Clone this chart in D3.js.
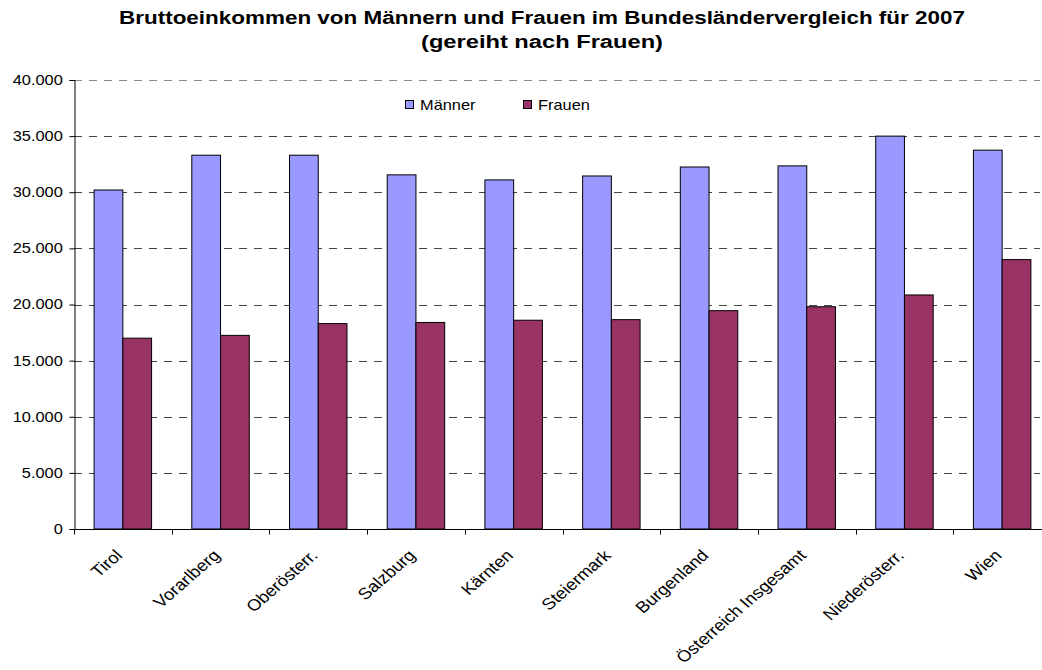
<!DOCTYPE html>
<html lang="de">
<head>
    <meta charset="UTF-8">
    <title>Bruttoeinkommen 2007</title>
    <script src="https://cdn.jsdelivr.net/npm/d3@7/dist/d3.min.js"></script>
    <style>
        body {
            margin: 0;
            background: white;
        }
        svg text {
            font-family: "Liberation Sans", Arial, sans-serif;
            fill: black;
        }
        .grid line {
            stroke: #444;
            stroke-dasharray: 8 7;
        }
        .bar {
            stroke: black;
            stroke-width: 1;
        }
    </style>
</head>
<body>
<script>
    const width = 1042;
    const height = 670;

    const laender = ["Tirol", "Vorarlberg", "Oberösterr.", "Salzburg", "Kärnten", "Steiermark",
        "Burgenland", "Österreich Insgesamt", "Niederösterr.", "Wien"];
    const serien = ["Männer", "Frauen"];
    const maenner = [30200, 33300, 33300, 31550, 31100, 31450, 32250, 32350, 35000, 33750];
    const frauen = [17000, 17250, 18300, 18400, 18600, 18650, 19450, 19800, 20850, 24000];
    const yTicks = [0, 5000, 10000, 15000, 20000, 25000, 30000, 35000, 40000];
    const farben = ["#9999FF", "#993366"];

    const plot = {left: 74, right: 1051, top: 80, bottom: 529};
    // the original picture is stretched horizontally, so text is too
    const stretch = 1.15;

    const svg = d3.select("body").append("svg")
            .attr("width", width).attr("height", height);

    // scales
    const x0 = d3.scaleBand().domain(laender).range([plot.left, plot.right]).padding(0);
    const x1 = d3.scaleBand().domain(serien).range([0, x0.bandwidth()])
            .paddingInner(0).paddingOuter(0.7);
    const y = d3.scaleLinear().domain([0, 40000]).range([plot.bottom, plot.top]);
    const color = d3.scaleOrdinal().domain(serien).range(farben);

    const fmt = d => d === 0 ? "0" : d3.format(",")(d).replace(/,/g, ".");

    // gridlines
    svg.append("g").attr("class", "grid")
        .selectAll("line")
        .data(yTicks.filter(d => d > 0))
        .enter().append("line")
        .attr("x1", plot.left).attr("x2", 1040)
        .attr("y1", d => Math.round(y(d)) + 0.5).attr("y2", d => Math.round(y(d)) + 0.5)
        .style("stroke", d => d === 40000 ? "#888" : null);

    // bars
    const rows = laender.map((l, i) => ({land: l, werte: [maenner[i], frauen[i]]}));
    svg.append("g").selectAll("g")
        .data(rows)
        .enter().append("g")
        .attr("transform", d => "translate(" + x0(d.land) + ",0)")
        .selectAll("rect")
        .data(d => serien.map((s, j) => ({serie: s, wert: d.werte[j]})))
        .enter().append("rect")
        .attr("class", "bar")
        .attr("x", d => x1(d.serie))
        .attr("width", x1.bandwidth())
        .attr("y", d => y(d.wert))
        .attr("height", d => y(0) - y(d.wert))
        .attr("fill", d => color(d.serie));

    // y axis
    const yAxis = svg.append("g")
        .attr("transform", "translate(" + (plot.left + 0.5) + ",0)")
        .call(d3.axisLeft(y).tickValues(yTicks).tickFormat(fmt).tickSize(5).tickPadding(5));
    yAxis.selectAll("text")
        .style("font-size", "14px")
        .attr("transform", "scale(1.17,1)");
    yAxis.select(".domain").attr("stroke", "black");

    // x axis with ticks at band boundaries
    const xAxis = svg.append("g").attr("transform", "translate(0," + (plot.bottom + 0.5) + ")");
    xAxis.append("line")
        .attr("x1", plot.left).attr("x2", 1042).attr("stroke", "black");
    xAxis.selectAll("line.tick")
        .data(laender)
        .enter().append("line")
        .attr("class", "tick")
        .attr("x1", d => Math.round(x0(d)) + 0.5).attr("x2", d => Math.round(x0(d)) + 0.5)
        .attr("y1", 0).attr("y2", 5)
        .attr("stroke", "black");
    xAxis.selectAll("text")
        .data(laender)
        .enter().append("text")
        .attr("transform", d => "translate(" + (x0(d) + x0.bandwidth() / 2 - 4) + ",23) scale(" + stretch + ",1) rotate(-45)")
        .attr("text-anchor", "end")
        .attr("dy", "0.35em")
        .style("font-size", "16px")
        .text(d => d);

    // legend
    const legend = svg.append("g");
    const legendX = [405, 523];
    serien.forEach((s, i) => {
        legend.append("rect")
            .attr("x", legendX[i] + 0.5).attr("y", 100.5)
            .attr("width", 8).attr("height", 8)
            .attr("fill", color(s)).attr("stroke", "black");
        legend.append("text")
            .attr("transform", "translate(" + (legendX[i] + 15) + ",110) scale(1.17,1)")
            .style("font-size", "14px")
            .text(s);
    });

    // title
    const title = svg.append("g").attr("transform", "translate(542,0)");
    title.append("text")
        .attr("y", 24).attr("text-anchor", "middle")
        .attr("textLength", 846).attr("lengthAdjust", "spacingAndGlyphs")
        .style("font-size", "18px").style("font-weight", "bold")
        .text("Bruttoeinkommen von Männern und Frauen im Bundesländervergleich für 2007");
    title.append("text")
        .attr("y", 48).attr("text-anchor", "middle")
        .attr("textLength", 242).attr("lengthAdjust", "spacingAndGlyphs")
        .style("font-size", "18px").style("font-weight", "bold")
        .text("(gereiht nach Frauen)");
</script>
</body>
</html>
